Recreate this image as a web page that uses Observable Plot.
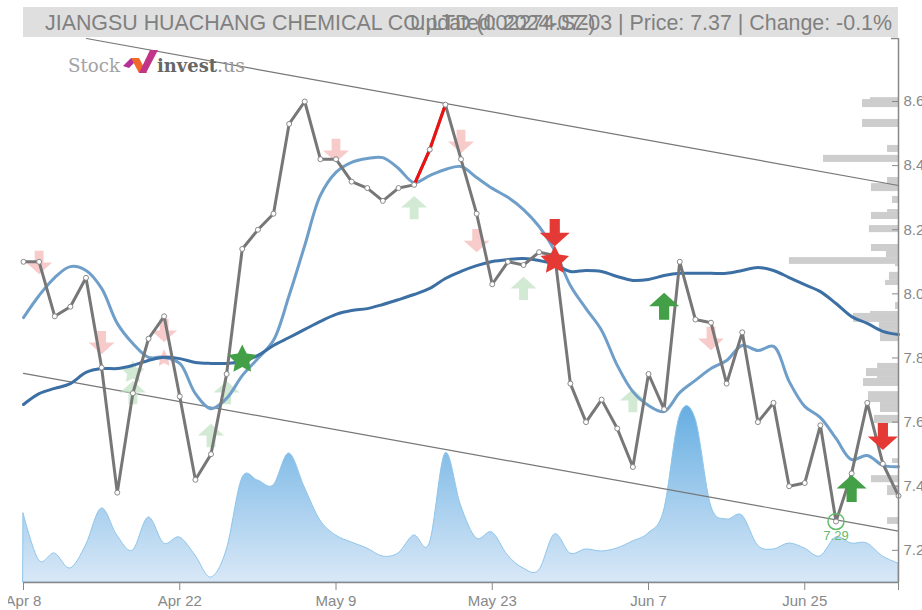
<!DOCTYPE html>
<html><head><meta charset="utf-8">
<script src="https://cdn.jsdelivr.net/npm/d3@7"></script>
<script src="https://cdn.jsdelivr.net/npm/@observablehq/plot@0.6"></script>
<style>
html,body{margin:0;padding:0;background:#fff;overflow:hidden}
#wrap{position:absolute;left:8px;top:0;width:914px;height:610px;overflow:hidden;font-family:"Liberation Sans",Arial,sans-serif}
#bar{position:absolute;left:15px;top:7px;width:875px;height:30px;background:#dfdfdf;color:#808080;font-size:21.4px;line-height:32px}
#bar span{position:absolute;top:0;white-space:nowrap}
#t1{left:22px}#t2{right:6px}
#chart{position:absolute;left:0;top:37px}
#chart svg{display:block}
#logo{position:absolute;left:60px;top:50px;line-height:30px;white-space:nowrap;pointer-events:none}
</style></head><body>
<div id="wrap">
<div id="bar"><span id="t1">JIANGSU HUACHANG CHEMICAL CO.,LTD (002274.SZ)</span><span id="t2">Updated: 2024-07-03 | Price: 7.37 | Change: -0.1%</span></div>
<div id="chart"></div>
<div id="logo"><svg width="190" height="30" style="display:block"><text x="0" y="22" font-family="DejaVu Serif" font-size="19" fill="#a3a3a3" textLength="52" lengthAdjust="spacingAndGlyphs">Stock</text>
<path d="M55 16L63 8L71 8L61 18Z" fill="#b5309b"/><path d="M63 8L71 8L79 23L71 23Z" fill="#f0682a"/><path d="M71 23L78 23L90 0L82 0Z" fill="#c23488"/>
<text x="89" y="22" font-family="DejaVu Serif" font-weight="700" font-size="19" fill="#666" textLength="60" lengthAdjust="spacingAndGlyphs">invest</text><text x="149" y="22" font-family="DejaVu Serif" font-size="19" fill="#999" textLength="28" lengthAdjust="spacingAndGlyphs">.us</text></svg></div>
</div>
<script>
const dayLabels = ["Apr 8","Apr 22","May 9","May 23","Jun 7","Jun 25"];
const dayTicks = [0,10,20,30,40,50];
const closePrice = [8.10,8.10,7.93,7.96,8.05,7.77,7.38,7.69,7.86,7.93,7.68,7.42,7.50,7.75,8.14,8.20,8.25,8.53,8.60,8.42,8.42,8.35,8.33,8.29,8.33,8.34,8.45,8.59,8.42,8.25,8.03,8.10,8.09,8.13,8.12,7.72,7.60,7.67,7.58,7.46,7.75,7.64,8.10,7.92,7.91,7.72,7.88,7.60,7.66,7.40,7.41,7.59,7.29,7.44,7.66,7.47,7.37];
const maShort = [7.926,7.995,8.051,8.085,8.073,8.017,7.908,7.845,7.802,7.802,7.783,7.689,7.642,7.674,7.745,7.798,7.855,7.995,8.151,8.307,8.379,8.410,8.422,8.425,8.391,8.347,8.369,8.388,8.397,8.363,8.329,8.301,8.263,8.210,8.135,8.026,7.954,7.886,7.777,7.695,7.652,7.633,7.692,7.730,7.767,7.792,7.839,7.823,7.836,7.727,7.649,7.614,7.549,7.483,7.496,7.465,7.461];
const maLong = [7.655,7.689,7.705,7.720,7.755,7.767,7.767,7.777,7.792,7.802,7.798,7.786,7.783,7.783,7.789,7.808,7.839,7.864,7.889,7.914,7.936,7.948,7.954,7.967,7.982,7.998,8.017,8.048,8.070,8.088,8.101,8.107,8.110,8.104,8.092,8.070,8.073,8.070,8.054,8.042,8.045,8.057,8.064,8.064,8.064,8.064,8.073,8.082,8.073,8.051,8.029,8.007,7.970,7.929,7.908,7.883,7.873];
const volume = [6.9,2.2,2.9,1.4,3.7,7.4,4.7,3.2,6.5,3.9,4.5,2.7,0.5,3.2,10.4,10.2,9.7,12.9,9.5,6.2,4.7,4.0,3.4,2.6,2.9,4.7,3.9,12.9,7.7,4.4,5.0,2.7,1.4,1.2,4.8,2.9,3.3,3.1,3.4,4.1,4.9,7.2,16.6,16.4,7.7,6.3,6.7,3.7,3.3,3.9,3.4,2.6,4.5,3.9,3.9,2.6,1.9];
const profileTop = [8.606,8.612,8.544,8.463,8.432,8.363,8.344,8.304,8.263,8.254,8.213,8.154,8.132,8.113,8.092,8.067,8.042,7.973,7.945,7.939,7.911,7.886,7.783,7.767,7.742,7.736,7.695,7.661,7.621,7.486,7.433,7.402,7.302];
const profileBottom = [8.581,8.598,8.519,8.441,8.410,8.344,8.319,8.282,8.254,8.232,8.191,8.132,8.113,8.092,8.085,8.042,8.026,7.951,7.939,7.911,7.886,7.851,7.767,7.742,7.736,7.711,7.661,7.630,7.596,7.471,7.411,7.371,7.281];
const profileWeight = [2.30,1.79,2.30,0.70,4.80,0.70,1.73,0.38,0.70,1.73,1.86,1.73,0.77,6.98,0.19,0.58,0.83,0.19,1.79,2.88,1.22,1.15,1.34,2.05,1.34,2.24,1.92,1.15,1.54,0.38,1.73,0.70,0.70];
const trendUpper = [{d:4.03,p:8.7965},{d:56,p:8.338}];
const trendLower = [{d:0,p:7.752},{d:56,p:7.260}];
const palePosDown = {d:[1,5,9,20,28,29,44],p:[8.098,7.848,7.886,8.447,8.475,8.166,7.861]};
const palePosUp = {d:[25,32,39,12,13,7],p:[8.269,8.017,7.667,7.558,7.692,7.692]};
const strongDown = {d:[34,55],p:[8.191,7.555]};
const strongUp = {d:[41,53],p:[7.961,7.393]};
const lowDay = 52, lowPrice = 7.29;

const yMin = 7.0997, yMax = 8.7965;
const days = d3.range(57);
const rows = days.map(i => ({i, close:closePrice[i], ms:maShort[i], ml:maLong[i], vol:yMin + volume[i]*10/320.6}));
const profile = profileTop.map((t,i)=>({t, b:profileBottom[i], w:profileWeight[i]}));
const toPts = o => o.d.map((d,i)=>({d, p:o.p[i]}));
const arrow = dir => ({draw(c,size){
  const s = Math.sqrt(size)/1.772;
  const w = s, h = s*0.9, q = s*0.34;
  const f = dir;
  c.moveTo(-q,-h*f); c.lineTo(q,-h*f); c.lineTo(q,0); c.lineTo(w,0); c.lineTo(0,h*f); c.lineTo(-w,0); c.lineTo(-q,0); c.closePath();
}});
const fatStar = {draw(c,size){
  const R = Math.sqrt(size)/1.772;
  for(let k=0;k<10;k++){
    const a = -Math.PI/2 + k*Math.PI/5, r = k%2 ? R*0.5 : R;
    const px = r*Math.cos(a), py = r*Math.sin(a);
    if(k===0) c.moveTo(px,py); else c.lineTo(px,py);
  }
  c.closePath();
}};
const paleRed = "#f5b5b5", paleGreen = "#bfe0c0";
const plot = Plot.plot({
  width:914, height:573, marginLeft:15, marginRight:24, marginTop:1, marginBottom:28,
  style:{fontFamily:'"Liberation Sans",Arial,sans-serif',background:"transparent",overflow:"visible"},
  x:{type:"linear",domain:[0,56], label:null},
  y:{type:"linear",domain:[yMin,yMax], label:null},
  marks:[
    Plot.areaY(rows,{x:"i",y1:()=>yMin,y2:"vol",curve:"cardinal",tension:0,fill:"url(#volgrad)",stroke:"#8ec5ea",strokeWidth:1}),
    Plot.rect(profile,{x1:d=>56-d.w,x2:()=>56,y1:"b",y2:"t",fill:"#cdcdcd"}),
    Plot.line(trendUpper,{x:"d",y:"p",stroke:"#777",strokeWidth:1.2}),
    Plot.line(trendLower,{x:"d",y:"p",stroke:"#777",strokeWidth:1.2}),
    Plot.dot(toPts(palePosDown),{x:"d",y:"p",r:13,symbol:arrow(1),fill:paleRed,fillOpacity:.7}),
    Plot.dot(toPts(palePosUp),{x:"d",y:"p",r:13,symbol:arrow(-1),fill:paleGreen,fillOpacity:.7}),
    Plot.dot([{d:9,p:7.798}],{x:"d",y:"p",r:9,symbol:fatStar,fill:paleRed,fillOpacity:.7}),
    Plot.dot([{d:7,p:7.755}],{x:"d",y:"p",r:12,symbol:fatStar,fill:paleGreen,fillOpacity:.7}),
    Plot.line(rows,{x:"i",y:"ms",curve:"catmull-rom",stroke:"#6f9fc9",strokeWidth:3}),
    Plot.line(rows,{x:"i",y:"ml",curve:"catmull-rom",stroke:"#3c6fa3",strokeWidth:3}),
    Plot.line(rows,{x:"i",y:"close",stroke:"#777",strokeWidth:3}),
    Plot.line(rows.slice(25,28),{x:"i",y:"close",stroke:"#f01010",strokeWidth:3}),
    Plot.dot(rows,{x:"i",y:"close",r:2.5,fill:"#fff",stroke:"#888",strokeWidth:1}),
    Plot.dot(toPts(strongDown),{x:"d",y:"p",r:15,symbol:arrow(1),fill:"#e53935"}),
    Plot.dot(toPts(strongUp),{x:"d",y:"p",r:15,symbol:arrow(-1),fill:"#43a047"}),
    Plot.dot([{d:14,p:7.795}],{x:"d",y:"p",r:15,symbol:fatStar,fill:"#43a047"}),
    Plot.dot([{d:34,p:8.104}],{x:"d",y:"p",r:15,symbol:fatStar,fill:"#e53935"}),
    Plot.dot([{d:lowDay,p:lowPrice}],{x:"d",y:"p",r:8,fill:"none",stroke:"#66bb6a",strokeWidth:1.5}),
    Plot.text([{d:lowDay,p:lowPrice}],{x:"d",y:"p",text:d=>d.p.toFixed(2),dy:14,fontSize:13,fill:"#66bb6a"}),
    Plot.ruleY([yMin],{stroke:"#888",strokeWidth:1.5}),
    Plot.ruleX([56],{y1:yMin,y2:yMax,stroke:"#888",strokeWidth:1.5}),
    Plot.ruleY([yMax],{x1:55.55,x2:56,stroke:"#888",strokeWidth:1.5}),
    Plot.axisX({ticks:[...dayTicks,56],tickSize:8,tickPadding:5,tickFormat:d=>{const k=dayTicks.indexOf(d);return k<0?"":dayLabels[k];},fontSize:15,color:"#888",tickRotate:0,label:null,textOverflow:null}),
    Plot.axisY({anchor:"right",ticks:[7.2,7.4,7.6,7.8,8.0,8.2,8.4,8.6],tickFormat:d=>d.toFixed(1),tickSize:-7,tickPadding:12,fontSize:15,color:"#888",label:null})
  ]
});
const defs = d3.select(plot).insert("defs",":first-child");
const g = defs.append("linearGradient").attr("id","volgrad").attr("x1",0).attr("x2",0).attr("y1",0).attr("y2",1);
g.append("stop").attr("offset","0%").attr("stop-color","#66aee2");
g.append("stop").attr("offset","100%").attr("stop-color","#d9e8f7");
document.getElementById("chart").appendChild(plot);
</script>
</body></html>
